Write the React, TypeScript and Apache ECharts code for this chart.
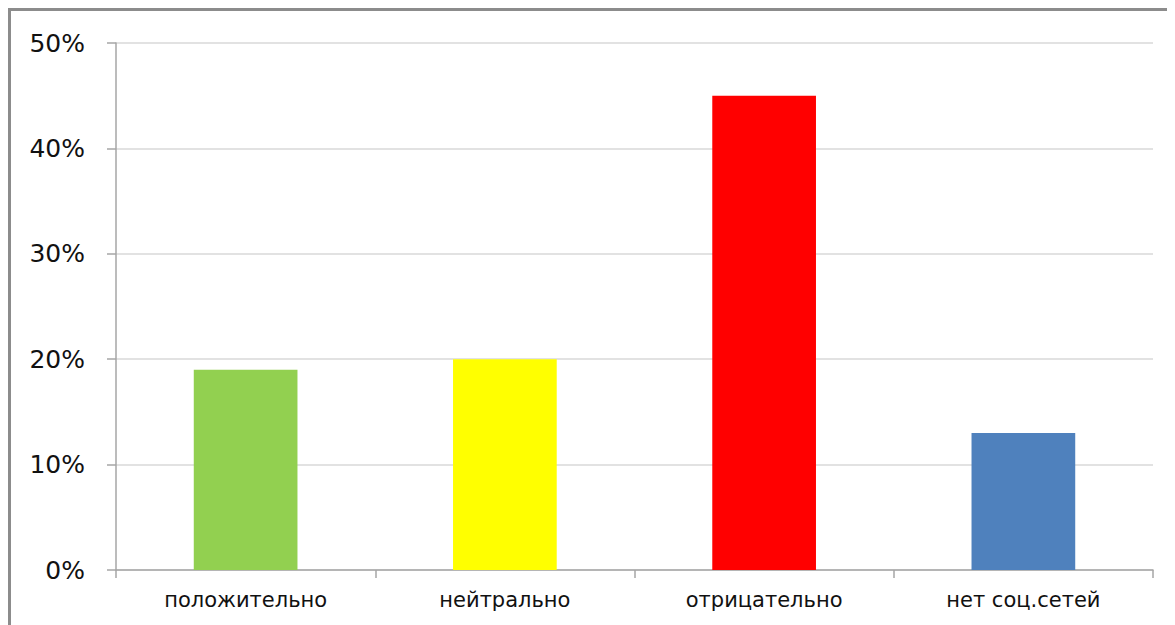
import React, { useEffect, useRef } from "react";
import * as echarts from "echarts";

const categories = ["положительно", "нейтрально", "отрицательно", "нет соц.сетей"];
const values = [19, 20, 45, 13];
const barColors = ["#92D050", "#FFFF00", "#FF0000", "#4F81BD"];
const yTicks = [0, 10, 20, 30, 40, 50];

export default function App() {
  const ref = useRef<HTMLDivElement>(null);
  useEffect(() => {
    if (!ref.current) return;
    const chart = echarts.init(ref.current, null, { renderer: "svg" });
    chart.setOption({
      animation: false,
      backgroundColor: "#ffffff",
      grid: { left: 105, top: 32, right: 22, bottom: 55, containLabel: false },
      xAxis: {
        type: "category",
        data: categories,
        axisLine: { show: true, lineStyle: { color: "#a6a6a6", width: 1.5 } },
        axisTick: { show: true, length: 8, lineStyle: { color: "#a6a6a6", width: 1.5 } },
        axisLabel: {
          color: "#111111",
          fontSize: 21,
          fontFamily: "DejaVu Sans",
          margin: 19,
          interval: 0,
        },
      },
      yAxis: {
        type: "value",
        min: yTicks[0],
        max: yTicks[yTicks.length - 1],
        interval: 10,
        axisLine: { show: true, lineStyle: { color: "#a6a6a6", width: 1.5 } },
        axisTick: { show: true, length: 9, lineStyle: { color: "#a6a6a6", width: 1.5 } },
        splitLine: { show: true, lineStyle: { color: "#d9d9d9", width: 1.5 } },
        axisLabel: {
          color: "#111111",
          fontSize: 25,
          fontFamily: "DejaVu Sans",
          margin: 31,
          formatter: (v: number) => `${v}%`,
        },
      },
      series: [
        {
          type: "bar",
          barWidth: "40%",
          data: values.map((v, i) => ({ value: v, itemStyle: { color: barColors[i] } })),
        },
      ],
    });
    return () => chart.dispose();
  }, []);
  return (
    <div
      style={{
        width: 1167,
        height: 617,
        boxSizing: "border-box",
        borderTop: "3px solid #8c8c8c",
        borderLeft: "3px solid #8c8c8c",
        background: "#ffffff",
        overflow: "hidden",
      }}
    >
      <div ref={ref} style={{ width: 1164, height: 614 }} />
    </div>
  );
}
